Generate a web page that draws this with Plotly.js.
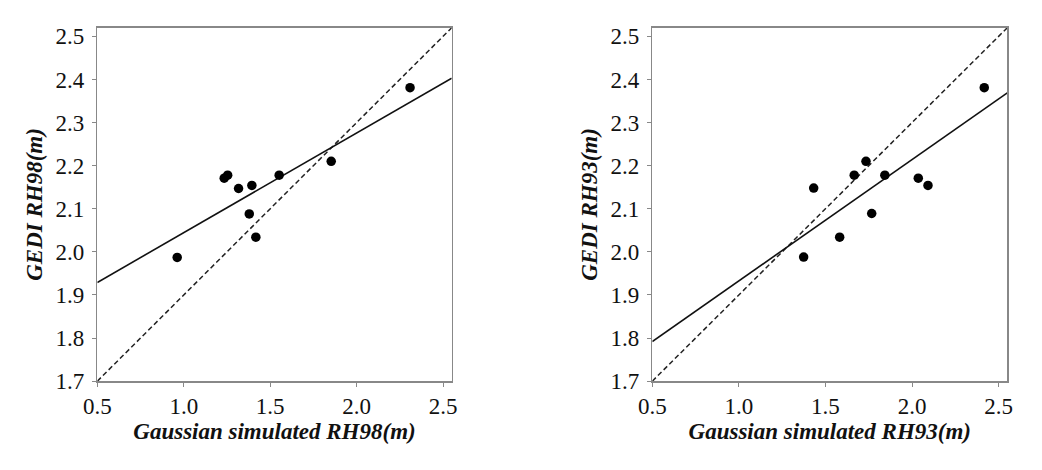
<!DOCTYPE html>
<html>
<head>
<meta charset="utf-8">
<script src="https://cdn.plot.ly/plotly-3.0.1.min.js"></script>
<style>
  html, body { margin: 0; padding: 0; background: #fff; }
  #plot { width: 1042px; height: 470px; }
</style>
</head>
<body>
<div id="plot"></div>
<script>
// values
const simRH98 = [0.962, 1.234, 1.254, 1.317, 1.394, 1.379, 1.417, 1.552, 1.853, 2.309];
const gediRH98 = [1.987, 2.171, 2.178, 2.147, 2.154, 2.088, 2.034, 2.178, 2.210, 2.381];

const simRH93 = [1.374, 1.432, 1.582, 1.666, 1.734, 1.767, 1.843, 2.036, 2.092, 2.417];
const gediRH93 = [1.988, 2.148, 2.034, 2.178, 2.210, 2.089, 2.178, 2.171, 2.154, 2.381];

// line end points (x at both plot edges)
const lineX = [0.5, 2.55];
const fitRH98 = [1.929, 2.403];
const fitRH93 = [1.792, 2.369];
const diagY = [1.7, 2.52];

const xTitles = ["Gaussian simulated RH98(m)", "Gaussian simulated RH93(m)"];
const yTitles = ["GEDI RH98(m)", "GEDI RH93(m)"];

const serif = "Liberation Serif";

function panelTraces(xs, ys, fit, xa, ya) {
  return [
    {
      x: lineX, y: diagY, xaxis: xa, yaxis: ya,
      mode: "lines", line: { color: "#222", width: 1.5, dash: "5px,3px" },
      hoverinfo: "skip",
    },
    {
      x: lineX, y: fit, xaxis: xa, yaxis: ya,
      mode: "lines", line: { color: "#111", width: 1.6 },
      hoverinfo: "skip",
    },
    {
      x: xs, y: ys, xaxis: xa, yaxis: ya,
      mode: "markers", marker: { color: "#000", size: 9.5 },
    },
  ];
}

function xAxis(domain, title, anchor) {
  return {
    domain: domain, anchor: anchor,
    range: [0.5, 2.55], dtick: 0.5, tick0: 0.5, tickformat: ".1f",
    showline: true, mirror: true, linecolor: "#888", linewidth: 1.5,
    ticks: "outside", ticklen: 4, tickcolor: "#888",
    showgrid: false, zeroline: false,
    tickfont: { family: serif, size: 23, color: "#111" },
    title: { text: "<b><i>" + title + "</i></b>", standoff: 0,
      font: { family: serif, size: 23, color: "#111" } },
  };
}

function yAxis(domain, title, anchor) {
  return {
    domain: domain, anchor: anchor,
    range: [1.7, 2.52], dtick: 0.1, tick0: 1.7, tickformat: ".1f",
    showline: true, mirror: true, linecolor: "#888", linewidth: 1.5,
    ticks: "outside", ticklen: 4, tickcolor: "#888",
    ticklabelstandoff: 3,
    showgrid: false, zeroline: false,
    tickfont: { family: serif, size: 23, color: "#111" },
    title: { text: "<b><i>" + title + "</i></b>", standoff: 6,
      font: { family: serif, size: 23, color: "#111" } },
  };
}

const yDom = [0.189, 0.941];

Plotly.newPlot(
  "plot",
  [
    ...panelTraces(simRH98, gediRH98, fitRH98, "x", "y"),
    ...panelTraces(simRH93, gediRH93, fitRH93, "x2", "y2"),
  ],
  {
    width: 1042, height: 470,
    margin: { l: 0, r: 0, t: 0, b: 0 },
    showlegend: false,
    font: { family: serif },
    paper_bgcolor: "#fff", plot_bgcolor: "#fff",
    xaxis: xAxis([0.0934, 0.4335], xTitles[0], "y"),
    yaxis: yAxis(yDom, yTitles[0], "x"),
    xaxis2: xAxis([0.626, 0.9667], xTitles[1], "y2"),
    yaxis2: yAxis(yDom, yTitles[1], "x2"),
  },
  { staticPlot: true }
);
</script>
</body>
</html>
